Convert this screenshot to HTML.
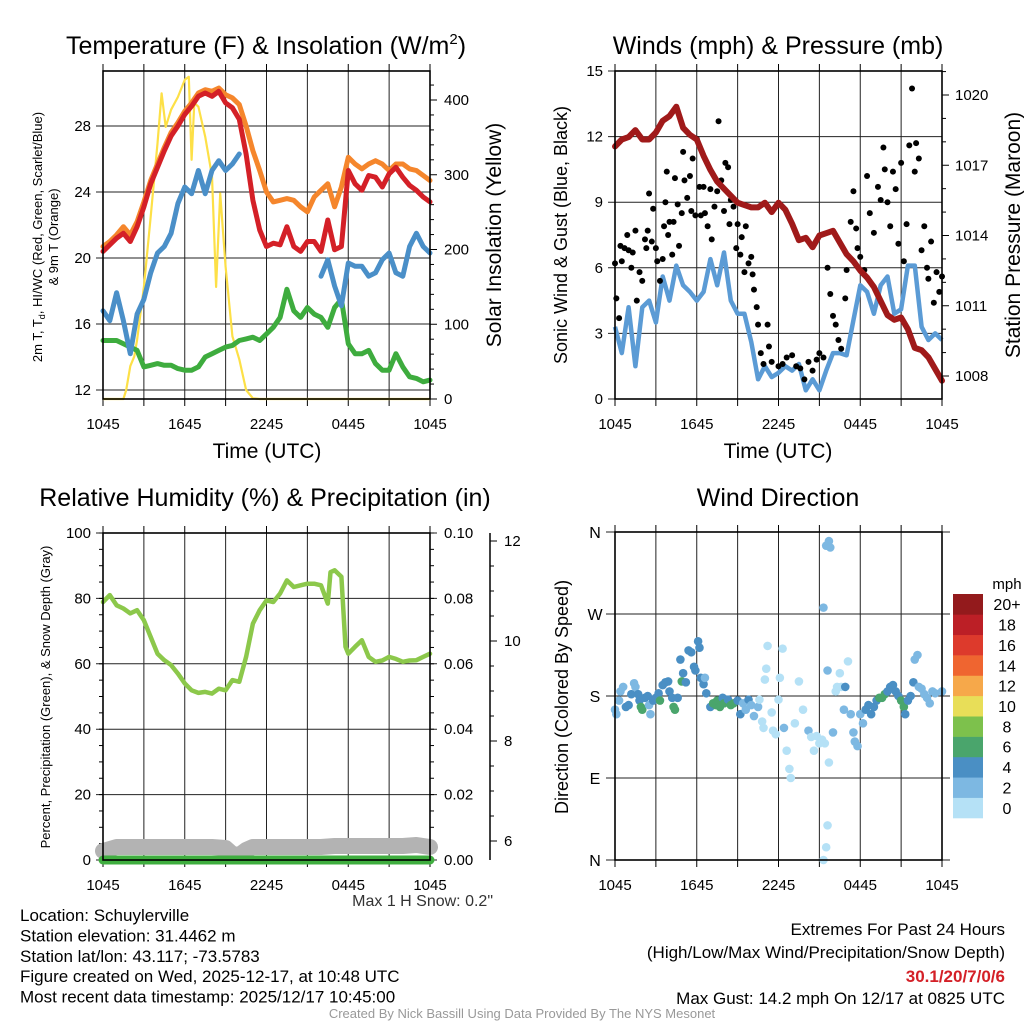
<!DOCTYPE html>
<html><head><meta charset="utf-8"><style>
html,body{margin:0;padding:0;background:#fff;}
svg{display:block;font-family:"Liberation Sans",sans-serif;}
</style></head><body>
<svg id="fig" width="1024" height="1024" viewBox="0 0 1024 1024" xmlns="http://www.w3.org/2000/svg"></svg>
<script>
// ---------- DATA ----------
const hours = [0,0.5,1,1.5,2,2.5,3,3.5,4,4.5,5,5.5,6,6.5,7,7.5,8,8.5,9,9.5,10,10.5,11,11.5,12,12.5,13,13.5,14,14.5,15,15.5,16,16.5,17,17.5,18,18.5,19,19.5,20,20.5,21,21.5,22,22.5,23,23.5,24];
const timeTickLabels = ["1045","1645","2245","0445","1045"];
const tempTicks = [12,16,20,24,28];
const solarTicks = [0,100,200,300,400];
const temp2m = [20.4,20.8,21.2,21.5,21.0,21.9,23.1,24.5,25.5,26.5,27.4,28.0,28.7,29.2,29.8,30.0,29.8,30.1,29.4,29.1,28.4,26.3,23.5,21.7,20.7,20.9,20.8,21.9,20.7,20.4,21.0,21.0,20.4,22.3,20.5,20.7,25.3,24.5,24.1,25.0,24.9,24.3,25.1,25.5,24.9,24.4,24.1,23.7,23.4];
const temp9m = [20.7,21.0,21.4,21.9,21.4,22.2,23.4,24.7,25.7,26.7,27.6,28.2,28.9,29.4,30.0,30.2,30.1,30.3,29.9,29.7,29.3,28.0,26.5,25.3,24.0,23.4,23.5,23.6,23.5,23.1,22.8,23.7,24.1,24.5,23.1,24.3,26.1,25.7,25.4,25.7,25.9,25.7,25.3,25.7,25.7,25.4,25.3,25.0,24.7];
const windChill = [16.8,16.2,17.9,16.2,14.2,16.6,17.5,19.1,20.3,20.7,21.5,23.3,24.3,23.9,25.3,23.9,25.3,25.9,25.3,25.7,26.3,null,null,null,null,null,null,null,null,null,null,null,18.9,19.9,18.3,17.1,19.7,19.5,19.5,18.9,19.1,19.9,20.3,19.1,18.9,20.7,21.5,20.7,20.3];
const dewPoint = [15.0,15.0,15.0,14.8,14.6,14.4,13.4,13.5,13.6,13.5,13.5,13.3,13.2,13.2,13.4,14.0,14.2,14.4,14.6,14.7,15.0,15.1,15.2,15.0,15.4,15.8,16.4,18.1,16.8,16.4,17.0,16.6,16.4,15.8,17.0,17.5,14.8,14.2,14.2,14.4,13.6,13.2,13.2,14.2,13.4,12.8,12.7,12.5,12.6];
const solarHours = [0,1.5,1.7,2,2.3,2.5,3,3.5,4,4.3,4.6,5,5.5,6,6.3,6.5,6.7,7,7.5,8,8.3,8.6,9,9.5,10,10.5,11,11.5,24];
const solar = [0,0,12,44,57,79,150,244,342,409,364,387,404,427,431,320,396,391,351,298,150,275,177,84,53,12,1,0,0];

const windTicks = [0,3,6,9,12,15];
const pressTicks = [1008,1011,1014,1017,1020];
const pressure = [1017.8,1018.1,1018.2,1018.5,1018.1,1018.1,1018.4,1018.9,1019.1,1019.5,1018.6,1018.3,1018.1,1017.4,1016.8,1016.3,1016.0,1015.7,1015.4,1015.3,1015.2,1015.2,1015.4,1015.0,1015.4,1015.1,1014.5,1013.8,1013.9,1013.5,1014.0,1014.1,1014.2,1013.7,1013.2,1012.9,1012.5,1012.2,1011.8,1011.2,1010.6,1010.4,1010.5,1010.0,1009.2,1009.1,1008.8,1008.3,1007.8];
const windSpeed = [3.3,2.1,4.2,1.5,4.2,4.5,3.5,5.6,4.5,6.1,5.2,4.9,4.5,4.9,6.4,5.2,6.7,4.5,3.9,3.9,2.6,0.9,1.5,1.0,1.2,1.5,1.3,1.6,0.4,0.9,0.4,1.3,2.1,2.1,2.0,3.6,5.2,4.9,3.9,5.2,5.6,3.9,4.1,6.1,6.1,3.3,2.7,3.0,2.7];
const gustHours = [0,0.1,0.3,0.4,0.5,0.7,0.9,1,1.2,1.3,1.5,1.6,1.8,2,2.2,2.3,2.4,2.5,2.7,2.8,3,3.1,3.3,3.5,3.6,3.7,3.8,3.9,4,4.2,4.3,4.4,4.6,4.7,4.9,5,5.1,5.3,5.5,5.6,5.7,5.9,6,6.2,6.3,6.5,6.6,6.8,7,7.1,7.3,7.5,7.6,7.8,8,8.1,8.3,8.4,8.5,8.7,8.9,9,9.2,9.3,9.5,9.6,9.8,10,10.1,10.2,10.4,10.5,10.7,10.9,11.2,11.3,11.5,12,12.3,12.6,13,13.3,13.6,13.9,14.2,14.5,14.8,15,15.3,15.6,15.8,16,16.2,16.4,16.6,16.9,17,17.3,17.5,17.7,17.8,18,18.3,18.5,18.7,19,19.3,19.5,19.7,19.8,20,20.2,20.4,20.6,20.8,21,21.2,21.4,21.6,21.8,22,22.1,22.3,22.5,22.7,22.9,23,23.2,23.4,23.6,23.8,24];
const gusts = [6.2,4.6,3.7,7.0,6.3,6.9,7.5,6.8,6.0,6.7,7.7,4.5,5.8,5.4,7.3,6.9,7.7,9.4,7.2,8.7,6.9,6.3,5.4,6.4,7.9,9.0,10.4,7.5,8.1,6.6,8.1,10.1,8.9,7.0,8.5,11.3,10.0,9.2,10.2,8.6,11.0,8.4,11.9,9.7,8.4,9.7,8.5,7.9,9.6,7.3,8.8,9.5,12.7,10.0,8.6,10.8,10.6,8.0,9.1,8.8,6.9,8.0,6.6,7.4,5.8,7.9,6.2,6.5,5.7,5.0,4.2,3.4,2.1,1.6,3.4,2.4,1.7,1.5,1.6,1.9,2.0,1.5,1.4,0.9,1.7,1.3,1.8,2.1,1.9,6.0,4.8,3.8,3.4,2.7,2.3,4.6,5.9,8.1,9.5,7.8,6.9,6.5,5.9,10.2,8.5,7.6,9.7,9.1,11.5,10.5,9.0,7.9,10.4,9.6,7.1,10.8,6.3,8.0,11.6,14.2,10.4,11.7,11.0,6.8,7.9,6.0,5.5,7.2,4.4,5.8,4.9,5.6];

const rhTicks = [0,20,40,60,80,100];
const precipTicks = ["0.00","0.02","0.04","0.06","0.08","0.10"];
const snowTicks = [6,8,10,12];
const rhHours = [0,0.5,1,1.5,2,2.5,3,3.5,4,4.5,5,5.5,6,6.5,7,7.5,8,8.5,9,9.5,10,10.5,11,11.5,12,12.5,13,13.5,14,14.5,15,15.5,16,16.5,16.7,17,17.5,17.8,18,18.5,19,19.5,20,20.5,21,21.5,22,22.5,23,23.5,24];
const rh = [78.9,81,77.9,76.9,75.4,76.4,73.3,68.2,63.1,61.1,59.6,57.0,54.0,51.9,51.1,51.4,50.9,52.4,51.9,55.0,54.5,62.1,72.3,76.4,79.4,78.9,81.5,85.5,83.5,84,84.5,84.5,84,78.4,88,88.6,86.6,65.2,63.1,65.2,67.2,62.1,60.6,61,62.1,61.5,60.6,61,61.1,62.1,63.1];
const snowHours = [0,1,2,3,4,5,6,7,8,9,9.5,10,10.5,11,12,13,14,15,16,17,18,19,20,21,22,23,24];
const snowDepth = [5.8,5.88,5.88,5.88,5.88,5.88,5.88,5.88,5.88,5.86,5.74,5.72,5.82,5.88,5.88,5.88,5.88,5.88,5.88,5.9,5.9,5.9,5.9,5.9,5.9,5.92,5.88];
const precipHours = [0,24];
const precip = [0,0];

const dirTickLabels = ["N","E","S","W","N"];
const dirHours = [0,0.1,0.3,0.4,0.6,0.8,1,1.2,1.4,1.5,1.7,1.8,1.9,2,2.2,2.4,2.5,2.6,2.8,3,3.2,3.3,3.5,3.7,3.9,4,4.2,4.3,4.4,4.6,4.8,5,4.9,5.2,5.4,5.6,5.8,5.9,6.1,6.2,6.3,6.5,6.7,6.6,7,7.2,7.4,7.5,7.7,7.9,8,8.3,8.5,8.7,9,9.2,9.4,9.6,9.8,10,10.2,10.5,10.6,10.8,11,11.1,11.2,10.9,11.5,11.6,11.8,12,12.1,12.3,12.4,12.6,12.8,12.9,13.2,13.5,13.8,14.2,14.4,14.6,14.8,15,15.2,15.4,15.6,15.5,15.7,15.8,15.3,15.3,15.5,15.6,15.7,16,16.2,16.3,16.5,16.6,16.8,16.9,17.1,17.3,17.5,17.6,17.8,18,18.2,18.4,18.6,18.8,19,19.2,19.4,19.6,19.8,20,20.2,20.4,20.6,20.8,21,21.2,21.3,21.5,21.7,21.9,22,22.2,22.3,22.5,22.7,22.9,23.1,23.3,23.5,24];
const dirDeg = [165,160,175,185,190,168,170,182,194,190,182,175,168,165,178,180,170,160,175,178,183,175,192,195,196,185,178,168,165,178,220,205,196,195,230,228,212,208,240,233,200,193,183,200,168,172,170,175,168,178,172,176,170,172,175,160,172,165,176,170,158,168,176,152,198,210,235,145,162,142,138,176,200,232,145,120,100,90,150,196,165,142,135,120,136,128,132,128,208,345,350,343,277,0,14,38,107,140,185,190,205,190,165,190,218,160,140,130,125,160,150,165,170,160,168,175,178,178,182,185,190,192,185,180,175,168,160,175,180,195,220,225,190,188,182,178,172,185,183,185];
const dirSpeed = [3,2,3,2,2,4,4,4,2,3,4,4,6,6,4,4,3,2,4,4,4,6,4,4,4,4,4,6,6,4,4,4,6,4,4,4,4,4,4,4,4,4,4,3,4,6,6,6,6,4,6,4,6,6,4,4,3,3,4,3,3,2,0,0,0,0,0,0,0,0,0,0,0,0,2,0,0,0,0,0,0,2,0,0,0,0,0,0,2,2,2,2,2,0,0,0,0,2,0,0,0,0,3,4,0,3,3,3,3,2,2,4,4,4,4,4,6,6,6,4,4,4,4,4,6,6,4,4,4,4,2,2,2,2,2,2,2,2,2,2];

const speedBinLabels = ["0","2","4","6","8","10","12","14","16","18","20+"];
const speedBinColors = ["#b5e1f6","#7db8e2","#4a8fc4","#4aa56c","#7dc14c","#e8de58","#f6a84a","#ef6530","#dd3a2c","#bc1f26","#931a1c"];

// ---------- HELPERS ----------
const NS="http://www.w3.org/2000/svg";
const svg=document.getElementById('fig');
function mk(tag,attrs,parent){const e=document.createElementNS(NS,tag);for(const k in attrs)e.setAttribute(k,attrs[k]);(parent||svg).appendChild(e);return e;}
function txt(s,x,y,size,anchor,parent,extra){const t=mk('text',Object.assign({x:x,y:y,'font-size':size,'text-anchor':anchor||'middle',fill:'#000'},extra||{}),parent);t.textContent=s;return t;}
function lin(d0,d1,r0,r1){return v=>r0+(v-d0)*(r1-r0)/(d1-d0);}
function pathFrom(xs,ys,fx,fy){let d='',pen=false;for(let i=0;i<xs.length;i++){if(ys[i]===null){pen=false;continue;}d+=(pen?'L':'M')+fx(xs[i]).toFixed(1)+','+fy(ys[i]).toFixed(1);pen=true;}return d;}

function timeAxis(g,fx,y0,y1){
  for(let h=0;h<=24;h+=3){
    const x=fx(h);
    const gl=mk('line',{x1:x,y1:y0,x2:x,y2:y1,stroke:'#222','stroke-width':1},g);
    
    
    mk('line',{x1:x,y1:y1-7,x2:x,y2:y1,stroke:'#000','stroke-width':1},g);
    mk('line',{x1:x,y1:y0,x2:x,y2:y0+7,stroke:'#000','stroke-width':1},g);
  }
  for(let i=0;i<timeTickLabels.length;i++){
    const t=txt(timeTickLabels[i],fx(i*6),y0+30,15,'middle',g);
    
    
  }
}
function frame(g,x0,y0,x1,y1){const r=mk('rect',{x:x0,y:y0,width:x1-x0,height:y1-y0,fill:'none',stroke:'#000','stroke-width':1.6},g);}

// ---------- PANEL 1: Temperature ----------
(function(){
  const X0=103,X1=430,Y0=71,Y1=399;
  const g=mk('g',{});
  const fx=lin(0,24,X0,X1), fy=lin(12,28,390,126), fs=lin(0,400,399,100);
  timeAxis(g,fx,Y1,Y0);
  for(const v of tempTicks){const y=fy(v);mk('line',{x1:X0-7,y1:y,x2:X1,y2:y,stroke:'#222','stroke-width':1},g);
    const t=txt(String(v),X0-12,y+5,15,'end',g);}
  for(let v=0;v<=430;v+=20){const y=fs(v);if(y<Y0)break;mk('line',{x1:X1,y1:y,x2:X1+(v%100===0?7:4),y2:y,stroke:'#000','stroke-width':1},g);}
  for(const v of solarTicks){const t=txt(String(v),X1+14,fs(v)+5,15,'start',g);}
  const sp=mk('path',{d:pathFrom(solarHours,solar,fx,fs),fill:'none',stroke:'#fde047','stroke-width':2.2,'stroke-linejoin':'round'},g);
  const series=[[dewPoint,'#3eac3e','dewpoint-line'],[windChill,'#4a8fc8','wind-chill-line'],[temp9m,'#f5862c','9m-temperature-line'],[temp2m,'#d42027','2m-temperature-line']];
  for(const s of series){const p=mk('path',{d:pathFrom(hours,s[0],fx,fy),fill:'none',stroke:s[1],'stroke-width':5,'stroke-linejoin':'round','stroke-linecap':'round'},g);}
  frame(g,X0,Y0,X1,Y1);
  const ti=txt('',266,54,25,'middle',g);
  ti.innerHTML='Temperature (F) &amp; Insolation (W/m<tspan font-size="15" dy="-10">2</tspan><tspan dy="10">)</tspan>';
  const xl=txt('Time (UTC)',267,458,21,'middle',g);
  const yl=txt('',0,0,13,'middle',g,{transform:'translate(42,237) rotate(-90)'});
  yl.innerHTML='2m T, T<tspan font-size="9" dy="3">d</tspan><tspan dy="-3">, HI/WC (Red, Green, Scarlet/Blue)</tspan>';
  const yl2=txt('& 9m T (Orange)',0,0,13,'middle',g,{transform:'translate(58,237) rotate(-90)'});
  const yr=txt('Solar Insolation (Yellow)',0,0,21,'middle',g,{transform:'translate(501,235) rotate(-90)'});
})();

// ---------- PANEL 2: Winds ----------
(function(){
  const X0=615,X1=942,Y0=71,Y1=399;
  const g=mk('g',{});
  const fx=lin(0,24,X0,X1), fy=lin(0,15,Y1,Y0), fp=lin(1008,1020,376,95);
  timeAxis(g,fx,Y1,Y0);
  for(const v of windTicks){const y=fy(v);mk('line',{x1:X0-7,y1:y,x2:X1,y2:y,stroke:'#222','stroke-width':1},g);
    const t=txt(String(v),X0-12,y+5,15,'end',g);}
  for(let v=1007;v<=1021;v++){const y=fp(v);if(y<Y0||y>Y1)continue;mk('line',{x1:X1,y1:y,x2:X1+((v-1008)%3===0?7:4),y2:y,stroke:'#000','stroke-width':1},g);}
  for(const v of pressTicks){const t=txt(String(v),X1+13,fp(v)+5,15,'start',g);}
  const wp=mk('path',{d:pathFrom(hours,windSpeed,fx,fy),fill:'none',stroke:'#5b9bd5','stroke-width':4.5,'stroke-linejoin':'round'},g);
  for(let i=0;i<gustHours.length;i++){const c=mk('circle',{cx:fx(gustHours[i]),cy:fy(gusts[i]),r:3,fill:'#000'},g);}
  const pp=mk('path',{d:pathFrom(hours,pressure,fx,fp),fill:'none',stroke:'#a01a1a','stroke-width':6,'stroke-linejoin':'round','stroke-linecap':'round'},g);
  frame(g,X0,Y0,X1,Y1);
  const ti=txt('Winds (mph) & Pressure (mb)',778,54,25,'middle',g);
  const xl=txt('Time (UTC)',778,458,21,'middle',g);
  const yl=txt('Sonic Wind & Gust (Blue, Black)',0,0,18,'middle',g,{transform:'translate(567,235) rotate(-90)'});
  const yr=txt('Station Pressure (Maroon)',0,0,21,'middle',g,{transform:'translate(1020,235) rotate(-90)'});
})();

// ---------- PANEL 3: RH ----------
(function(){
  const X0=103,X1=430,Y0=533,Y1=860;
  const g=mk('g',{});
  const fx=lin(0,24,X0,X1), fy=lin(0,100,Y1,Y0), fsn=lin(6,12,841,541);
  timeAxis(g,fx,Y1,Y0);
  for(let i=0;i<rhTicks.length;i++){const y=fy(rhTicks[i]);mk('line',{x1:X0-7,y1:y,x2:X1+7,y2:y,stroke:'#222','stroke-width':1},g);
    const t=txt(String(rhTicks[i]),X0-12,y+5,15,'end',g);
    const t2=txt(precipTicks[i],X1+14,y+5,15,'start',g);}
  for(let v=0;v<=100;v+=5){const y=fy(v);mk('line',{x1:X0-4,y1:y,x2:X0,y2:y,stroke:'#000'},g);mk('line',{x1:X1,y1:y,x2:X1+4,y2:y,stroke:'#000'},g);}
  const sa=mk('line',{x1:490,y1:533,x2:490,y2:860,stroke:'#000','stroke-width':1.5},g);
  for(let v=6;v<=12;v+=0.5){const y=fsn(v);mk('line',{x1:490,y1:y,x2:490+(v%2===0?7:4),y2:y,stroke:'#000'},g);}
  for(const v of snowTicks){const t=txt(String(v),504,fsn(v)+5,15,'start',g);}
  const snp=mk('path',{d:pathFrom(snowHours,snowDepth,fx,fsn),fill:'none',stroke:'#b3b3b3','stroke-width':16,'stroke-linejoin':'round','stroke-linecap':'round'},g);
  const fpr=lin(0,0.1,Y1,Y0);
  const prp=mk('path',{d:pathFrom(precipHours,precip,fx,fpr),fill:'none',stroke:'#3fae3f','stroke-width':9,'stroke-linecap':'round'},g);
  const rp=mk('path',{d:pathFrom(rhHours,rh,fx,fy),fill:'none',stroke:'#8cc84b','stroke-width':4.5,'stroke-linejoin':'round','stroke-linecap':'round'},g);
  frame(g,X0,Y0,X1,Y1);
  const ti=txt('Relative Humidity (%) & Precipitation (in)',265,506,25,'middle',g);
  const yl=txt('Percent, Precipitation (Green), & Snow Depth (Gray)',0,0,13,'middle',g,{transform:'translate(50,697) rotate(-90)'});
  const ms=txt('Max 1 H Snow: 0.2"',493,906,16,'end',g,{fill:'#333'});
})();

// ---------- PANEL 4: Wind direction ----------
(function(){
  const X0=615,X1=942,Y0=532,Y1=860;
  const g=mk('g',{});
  const fx=lin(0,24,X0,X1), fy=lin(0,360,Y1,Y0);
  timeAxis(g,fx,Y1,Y0);
  for(let i=0;i<dirTickLabels.length;i++){const y=fy(i*90);mk('line',{x1:X0-9,y1:y,x2:X1+8,y2:y,stroke:'#222','stroke-width':1},g);
    const t=txt(dirTickLabels[i],X0-20,y+6,16,'middle',g);}
  for(let i=0;i<dirHours.length;i++){const bin=Math.min(10,Math.floor(dirSpeed[i]/2));
    const c=mk('circle',{cx:fx(dirHours[i]),cy:fy(dirDeg[i]),r:4.3,fill:speedBinColors[bin]},g);}
  frame(g,X0,Y0,X1,Y1);
  const cb=mk('g',{},g);
  const bh=(818-594)/speedBinColors.length;
  for(let i=0;i<speedBinColors.length;i++){const y=818-(i+1)*bh;
    const r=mk('rect',{x:953,y:y,width:30,height:bh+0.3,fill:speedBinColors[i]},cb);
    const t=txt(speedBinLabels[i],1007,y+bh/2+6,16,'middle',cb);}
  const u=txt('mph',1007,589,15,'middle',cb);
  const ti=txt('Wind Direction',778,506,25,'middle',g);
  const yl=txt('Direction (Colored By Speed)',0,0,18,'middle',g,{transform:'translate(568,697) rotate(-90)'});
})();

// ---------- FOOTER ----------
(function(){
  const g=mk('g',{});
  const left=["Location: Schuylerville","Station elevation: 31.4462 m","Station lat/lon: 43.117; -73.5783","Figure created on Wed, 2025-12-17, at 10:48 UTC","Most recent data timestamp: 2025/12/17 10:45:00"];
  left.forEach((s,i)=>{const t=txt(s,20,921+i*20.4,17,'start',g);});
  const a=txt('Extremes For Past 24 Hours',1005,935,17,'end',g);
  const b=txt('(High/Low/Max Wind/Precipitation/Snow Depth)',1005,958,17,'end',g);
  const c=txt('30.1/20/7/0/6',1005,982,17,'end',g,{fill:'#d42027','font-weight':'bold'});
  const d=txt('Max Gust: 14.2 mph On 12/17 at 0825 UTC',1005,1004,17,'end',g);
  const e=txt('Created By Nick Bassill Using Data Provided By The NYS Mesonet',522,1018,13,'middle',g,{fill:'#999'});
})();
</script>
</body></html>
